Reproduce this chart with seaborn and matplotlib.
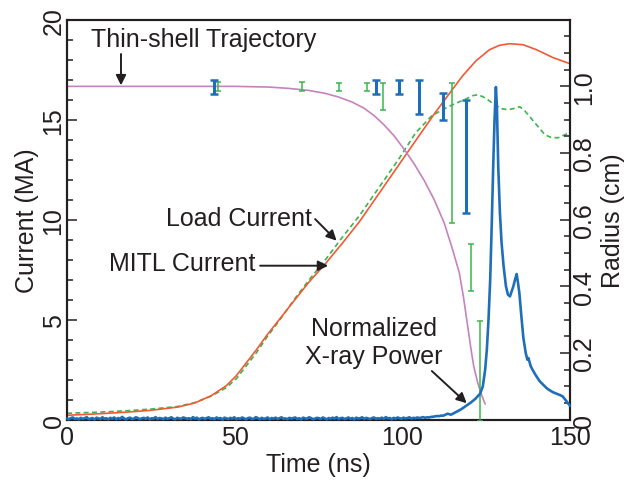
import numpy as np
import pandas as pd
import matplotlib
matplotlib.use("Agg")
import matplotlib.pyplot as plt
import seaborn as sns

# ---------------- data ----------------
# MITL current (MA), solid red
mitl_time = [0, 10, 18, 25, 33, 38, 43, 47.5, 50.5, 53.5, 56.5, 59.5, 63.5, 67.5, 72, 77.3,
             82, 87.2, 93, 99.2, 105, 110, 114, 118, 122, 126, 129, 132, 136, 140, 145, 150]
mitl_current = [0.22, 0.3, 0.38, 0.47, 0.63, 0.83, 1.2, 1.7, 2.2, 2.85, 3.5, 4.2, 5.05, 5.9, 6.85, 7.85,
                8.8, 9.9, 11.3, 12.8, 14.2, 15.4, 16.3, 17.2, 17.95, 18.5, 18.72, 18.8, 18.75, 18.5, 18.1, 17.8]

# Load current (MA), dashed green
load_time = [0, 10, 18, 25, 33, 38, 43, 47.5, 50.5, 53.5, 56.5, 59.5, 63.5, 67.5, 72, 77.3, 82, 87.2,
             93, 99.2, 104, 108.8, 112, 115, 118.5, 121, 122.5, 124, 125.5, 127.5, 129.5, 131.5, 133,
             135, 136.5, 138.5, 140.5, 142.5, 144.5, 146.5, 148.5, 150]
load_current = [0.32, 0.38, 0.45, 0.53, 0.66, 0.85, 1.18, 1.6, 2.05, 2.7, 3.35, 4.1, 5.0, 5.95, 6.95, 8.05,
                9.1, 10.2, 11.6, 13.1, 14.35, 15.2, 15.5, 15.75, 16.0, 16.2, 16.25, 16.15, 16.0, 15.75,
                15.55, 15.5, 15.55, 15.65, 15.45, 15.05, 14.65, 14.25, 14.1, 14.1, 14.25, 14.35]

# Thin-shell trajectory radius (cm), purple
shell_time = [0, 50, 60, 66, 72, 77, 81, 85, 88.5, 91.5, 94.5, 97.5, 100.5, 103.5, 106.5, 109.5,
              112.5, 115, 117, 118.2, 119.5, 120.5, 121.3, 122.5, 123.6, 124.7]
shell_radius = [1.0, 1.0, 0.998, 0.994, 0.988, 0.979, 0.968, 0.953, 0.935, 0.913, 0.885, 0.852, 0.812,
                0.768, 0.718, 0.66, 0.59, 0.51, 0.44, 0.37, 0.28, 0.21, 0.16, 0.11, 0.075, 0.047]

# Normalized X-ray power: baseline noise (0-111.5 ns, evenly sampled), in units of NOISE_UNIT
NOISE_UNIT = 1 / 1800.0
xray_noise_counts = [6, 3, 9, 12, 4, 7, 2, 10, 5, 8, 14, 3, 6, 9, 1, 11, 7, 4, 13, 5, 8, 2, 10, 6, 12, 3,
                     9, 5, 15, 7, 2, 8, 11, 4, 6, 13, 9, 3, 7, 10, 5, 12, 2, 8, 6, 14, 4, 9, 7, 3, 11, 5,
                     8, 13, 6, 2, 10, 7, 4, 12, 9, 5, 8, 3, 14, 6, 11, 2, 7, 10, 4, 9, 13, 5, 8, 3, 12, 6,
                     9, 1, 11, 7, 4, 10, 6, 13, 3, 8, 5, 12, 7, 2, 9, 11, 4, 6, 14, 8, 3, 10, 5, 7, 12, 2,
                     9, 6, 11, 4, 8, 13, 5, 7, 3, 10, 6, 9, 12, 4, 8, 2, 11, 7, 5, 13, 9, 3, 6, 10, 8, 4,
                     12, 7, 2, 9, 5, 11, 6, 14, 3, 8, 10, 4, 7, 12, 5, 9, 2, 11, 6, 8, 13, 4, 10, 7, 3, 9,
                     12, 5, 8, 6, 11, 4, 14, 7, 9, 3, 10, 6, 12, 8, 5, 11, 7, 9, 13, 6, 10, 8, 12, 9, 11,
                     14, 10, 13, 12, 15, 16, 18, 20, 19, 22]
# X-ray pulse
xray_time = [112.2, 113.5, 114.5, 116.2, 117.5, 119.2, 120.5, 121.7, 123.2, 124.0, 124.7, 125.2, 125.7,
             126.2, 126.7, 127.1, 127.5, 127.9, 128.2, 128.6, 129.1, 129.6, 130.2, 130.9, 131.5, 132.1,
             132.6, 133.1, 133.6, 134.1, 134.5, 134.9, 135.5, 136.1, 136.8, 137.3, 137.6, 138.3, 139.1,
             140.0, 141.0, 142.0, 143.1, 144.0, 145.0, 146.0, 147.0, 147.8, 148.6, 149.5, 150.0]
xray_power = [0.012, 0.018, 0.015, 0.024, 0.031, 0.043, 0.052, 0.062, 0.078, 0.10, 0.15, 0.21, 0.30, 0.42,
              0.60, 0.76, 0.90, 0.998, 0.94, 0.76, 0.62, 0.53, 0.46, 0.40, 0.375, 0.37, 0.385, 0.40,
              0.42, 0.437, 0.41, 0.38, 0.31, 0.245, 0.20, 0.18, 0.185, 0.16, 0.145, 0.13, 0.115, 0.105,
              0.094, 0.088, 0.082, 0.078, 0.074, 0.07, 0.06, 0.048, 0.042]

# Measured radii with error bars (cm)
blue_bar_time = [43.9, 92.1, 99.0, 105.0, 112.0, 119.0]
blue_bar_radius = [0.998, 0.997, 0.997, 0.968, 0.939, 0.79]
blue_bar_err = [0.022, 0.021, 0.021, 0.051, 0.04, 0.17]

green_bar_time = [44.9, 70.0, 81.2, 89.4, 94.3, 114.9, 120.6, 123.2]
green_bar_radius = [0.999, 0.999, 0.998, 0.998, 0.969, 0.80, 0.456, 0.146]
green_bar_err = [0.013, 0.013, 0.012, 0.012, 0.04, 0.21, 0.07, 0.15]

x_ticks = [0, 50, 100, 150]
left_ticks = [0, 5, 10, 15, 20]
right_ticks = [0, 0.2, 0.4, 0.6, 0.8, 1.0]
right_tick_labels = ["0", "0.2", "0.4", "0.6", "0.8", "1.0"]

# ---------------- style ----------------
sns.set_theme(style="white")
plt.rcParams["font.family"] = ["Liberation Sans", "DejaVu Sans"]
INK = "#231f20"
RED = "#f15a33"
GREEN = "#3bb54c"
BLUE = "#1f6fb8"
PURPLE = "#c682bd"
FS = 18

fig, ax = plt.subplots(figsize=(6.34, 4.81), dpi=100)
fig.subplots_adjust(left=67 / 634, right=570 / 634, bottom=1 - 420.7 / 481, top=1 - 20.7 / 481)
ax2 = ax.twinx()

mitl_df = pd.DataFrame({"t": mitl_time, "I": mitl_current})
load_df = pd.DataFrame({"t": load_time, "I": load_current})
shell_df = pd.DataFrame({"t": shell_time, "r": shell_radius})
noise_t = np.linspace(0, 111.5, len(xray_noise_counts))
xray_df = pd.DataFrame({
    "t": np.concatenate([noise_t, xray_time]),
    "p": np.concatenate([np.array(xray_noise_counts) * NOISE_UNIT, xray_power]),
})

sns.lineplot(data=mitl_df, x="t", y="I", ax=ax, color=RED, linewidth=1.2, zorder=3)
sns.lineplot(data=load_df, x="t", y="I", ax=ax, color=GREEN, linewidth=1.2,
             linestyle=(0, (3, 2)), zorder=2)

sns.lineplot(data=shell_df, x="t", y="r", ax=ax2, color=PURPLE, linewidth=1.2, zorder=2)
ax2.errorbar(green_bar_time, green_bar_radius, yerr=green_bar_err, fmt="none", ecolor=GREEN,
             elinewidth=1.1, capsize=2.2, capthick=1.1, zorder=3)
ax2.errorbar(blue_bar_time, blue_bar_radius, yerr=blue_bar_err, fmt="none", ecolor=BLUE,
             elinewidth=2.2, capsize=2.6, capthick=1.8, zorder=3)
sns.lineplot(data=xray_df, x="t", y="p", ax=ax2, color=BLUE, linewidth=1.9, zorder=4, clip_on=False)

# ---------------- axes ----------------
ax.set_xlim(0, 150)
ax.set_ylim(0, 20)
ax2.set_ylim(0, 1.2)
ax.set_xticks(x_ticks)
ax.set_xticks(np.arange(0, 151, 10), minor=True)
ax.set_yticks(left_ticks)
ax.set_yticks(np.arange(0, 21, 1), minor=True)
ax2.set_yticks(right_ticks)
ax2.set_yticklabels(right_tick_labels)
ax2.set_yticks(np.arange(0, 1.201, 0.05), minor=True)

for a in (ax, ax2):
    for s in a.spines.values():
        s.set_color(INK)
        s.set_linewidth(1.5)
    a.tick_params(which="major", direction="in", length=7.2, width=1.1, color=INK,
                  labelsize=FS, labelcolor=INK)
    a.tick_params(which="minor", direction="in", length=4.3, width=1.1, color=INK)
ax.tick_params(axis="x", which="both", top=False, pad=4)
ax.tick_params(axis="y", which="both", left=True, right=False, pad=1, labelrotation=90)
ax2.tick_params(axis="y", which="both", right=True, left=False, pad=1.5, labelrotation=90)
for lab in ax.get_yticklabels() + ax2.get_yticklabels():
    lab.set_va("center")

ax.set_xlabel("Time (ns)", fontsize=FS, color=INK)
ax.set_ylabel("Current (MA)", fontsize=FS, color=INK)
ax2.set_ylabel("Radius (cm)", fontsize=FS, color=INK)
ax.xaxis.set_label_coords(0.5, -0.111)
ax.xaxis.label.set_va("center")
ax.yaxis.set_label_coords(-0.0795, 0.5)
ax.yaxis.label.set_va("center")
ax2.yaxis.set_label_coords(1.0855, 0.5)
ax2.yaxis.label.set_va("center")

# ---------------- annotations ----------------
arrow = dict(arrowstyle="-|>", color=INK, lw=1.4, mutation_scale=15, shrinkA=0, shrinkB=0)
ax2.text(40.6, 1.142, "Thin-shell Trajectory", fontsize=FS, color=INK, ha="center", va="center")
ax2.annotate("", xy=(16.1, 1.003), xytext=(16.1, 1.097), arrowprops=arrow)
ax.text(51.4, 10.09, "Load Current", fontsize=FS, color=INK, ha="center", va="center")
ax.annotate("", xy=(80.4, 8.95), xytext=(74.0, 10.03), arrowprops=arrow)
ax.text(34.4, 7.83, "MITL Current", fontsize=FS, color=INK, ha="center", va="center")
ax.annotate("", xy=(77.9, 7.7), xytext=(57.6, 7.7), arrowprops=arrow)
ax2.text(91.6, 0.2325, "Normalized\nX-ray Power", fontsize=FS, color=INK, ha="center",
         va="center", linespacing=1.2)
ax2.annotate("", xy=(119.2, 0.0495), xytext=(108.8, 0.146), arrowprops=arrow)

fig.savefig("out.png", dpi=100)
